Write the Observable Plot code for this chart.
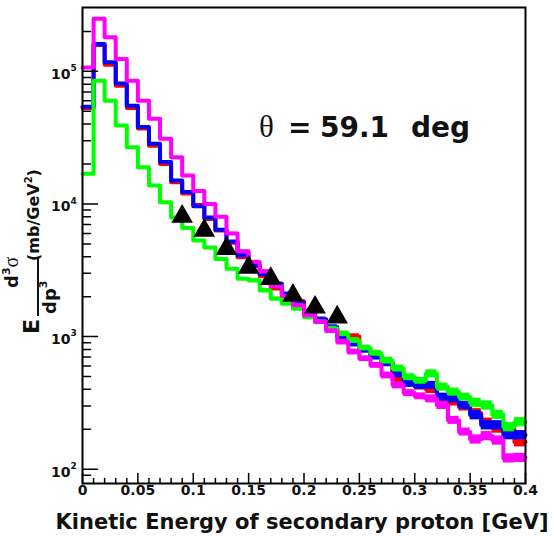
<!DOCTYPE html>
<html><head><meta charset="utf-8">
<script src="https://cdn.jsdelivr.net/npm/d3@7"></script>
<script src="https://cdn.jsdelivr.net/npm/@observablehq/plot@0.6"></script>
<style>html,body{margin:0;padding:0;background:#fff} svg{display:block}</style>
</head><body><div id="chart"></div>
<script>
// ---------- data ----------
const binEdges = [0,0.01,0.02,0.03,0.04,0.05,0.06,0.07,0.08,0.09,0.10,0.11,0.12,0.13,0.14,0.15,0.16,0.17,0.18,0.19,0.20,0.21,0.22,0.23,0.24,0.25,0.26,0.27,0.28,0.29,0.30,0.31,0.32,0.33,0.34,0.35,0.36,0.37,0.38,0.39,0.40];
const magenta = [107000,249000,181000,124000,85000,60000,44000,31000,22500,16400,12500,10000,8000,6000,4400,3650,3100,2400,2020,1720,1450,1290,1100,910,765,682,607,510,429,375,355,340,303,234,191,168,178,165,121,122];
const blue = [54000,161000,117000,81000,55000,38000,28400,20700,15000,12300,9600,7900,6400,5200,4100,3450,2950,2500,2100,1800,1550,1350,1180,1000,880,790,700,630,520,440,425,430,350,340,303,256,215,215,181,181];
const red = [53000,158000,112000,78000,53000,37000,27500,20000,14600,12000,9800,7700,6300,5100,3970,3400,2850,2300,2050,1850,1500,1320,1150,1020,1000,800,720,640,470,450,420,400,330,322,295,265,225,203,200,160];
const green = [16900,85000,60000,39000,26800,18900,13800,10300,7900,6600,5300,4700,3850,3250,2730,2650,2230,1930,1770,1620,1400,1290,1150,1050,936,820,750,660,575,495,465,525,417,382,350,318,303,258,208,227];
const relErr = [0,0,0,0,0,0,0,0,0,0,0.01,0.01,0.02,0.02,0.02,0.03,0.03,0.03,0.03,0.03,0.04,0.04,0.04,0.05,0.05,0.05,0.05,0.06,0.06,0.06,0.06,0.07,0.07,0.07,0.07,0.08,0.08,0.08,0.08,0.08];
const dataX = [0.09,0.11,0.13,0.15,0.17,0.19,0.21,0.23];
const dataY = [8050,6310,4590,3320,2730,2040,1660,1400];
const xTickValues = [0,0.05,0.1,0.15,0.2,0.25,0.3,0.35,0.4];
const xTickLabels = ["0","0.05","0.1","0.15","0.2","0.25","0.3","0.35","0.4"];
const xMinorTicks = [0.01,0.02,0.03,0.04,0.06,0.07,0.08,0.09,0.11,0.12,0.13,0.14,0.16,0.17,0.18,0.19,0.21,0.22,0.23,0.24,0.26,0.27,0.28,0.29,0.31,0.32,0.33,0.34,0.36,0.37,0.38,0.39];
const yMajorTicks = [100,1000,10000,100000];
const yExponents = ["2","3","4","5"];
const yMinorTicks = [90,200,300,400,500,600,700,800,900,2000,3000,4000,5000,6000,7000,8000,9000,20000,30000,40000,50000,60000,70000,80000,90000,200000];
const titleParts = ["=", "59.1", "deg"];
const xTitle = "Kinetic Energy of secondary proton [GeV]";

// ---------- build ----------
const seriesList = [
  {vals: red, color: "#ff0000"},
  {vals: blue, color: "#0000ff"},
  {vals: green, color: "#00ff00"},
  {vals: magenta, color: "#ff00ff"}
];
const tickShape = {draw(context, l) { context.moveTo(0, 0); context.lineTo(0, -l); }};

const marks = [];
for (const s of seriesList) {
  const pts = binEdges.map((e, i) => ({x: e, y: s.vals[Math.min(i, s.vals.length - 1)]}));
  const boxes = s.vals.map((v, i) => ({x1: binEdges[i], x2: binEdges[i + 1], v, e: relErr[i]})).filter(d => d.e > 0);
  marks.push(Plot.rect(boxes, {x1: "x1", x2: "x2", y1: d => d.v * (1 - d.e), y2: d => d.v * (1 + d.e), fill: s.color}));
  marks.push(Plot.line(pts, {x: "x", y: "y", curve: "step-after", stroke: s.color, strokeWidth: 4}));
}
marks.push(Plot.dot(dataX.map((x, i) => ({x, y: dataY[i]})), {x: "x", y: "y", symbol: "triangle", r: 8, fill: "black", stroke: "none"}));
// ticks
marks.push(Plot.vector(yMajorTicks, {y: d => d, frameAnchor: "left", length: 15, rotate: 90, anchor: "start", shape: tickShape, stroke: "black", strokeWidth: 1.5}));
marks.push(Plot.vector(yMinorTicks, {y: d => d, frameAnchor: "left", length: 8, rotate: 90, anchor: "start", shape: tickShape, stroke: "black", strokeWidth: 1.5}));
marks.push(Plot.vector(xTickValues, {x: d => d, frameAnchor: "bottom", length: 10, rotate: 0, anchor: "start", shape: tickShape, stroke: "black", strokeWidth: 1.5}));
marks.push(Plot.vector(xMinorTicks, {x: d => d, frameAnchor: "bottom", length: 5, rotate: 0, anchor: "start", shape: tickShape, stroke: "black", strokeWidth: 1.5}));
// tick labels
marks.push(Plot.text(xTickValues, {x: d => d, frameAnchor: "bottom", text: (d, i) => xTickLabels[i], lineAnchor: "top", dy: 2, fontSize: 14, fontWeight: "bold", fill: "#111"}));
marks.push(Plot.text(yMajorTicks, {y: d => d, frameAnchor: "left", text: () => "10", textAnchor: "end", dx: -12, dy: 3, fontSize: 14, fontWeight: "bold", fill: "#111"}));
marks.push(Plot.text(yMajorTicks, {y: d => d, frameAnchor: "left", text: (d, i) => yExponents[i], textAnchor: "start", dx: -12, dy: -3, fontSize: 9, fontWeight: "bold", fill: "#111"}));
marks.push(Plot.frame({stroke: "black", strokeWidth: 2}));

const plot = Plot.plot({
  width: 554, height: 536,
  marginLeft: 82, marginRight: 29, marginTop: 7, marginBottom: 53,
  x: {domain: [0, 0.4], axis: null},
  y: {type: "log", domain: [78, 303000], axis: null},
  style: {fontFamily: "DejaVu Sans", background: "white"},
  marks
});
document.getElementById("chart").appendChild(plot);

const svg = d3.select(plot);
// theta label
const t = svg.append("text").attr("x", 259).attr("y", 137).attr("fill", "#111").attr("text-anchor", "start");
t.append("tspan").attr("font-family", "Liberation Serif").attr("font-size", 31).text("θ");
const tb = svg.append("text").attr("y", 137).attr("fill", "#111").attr("text-anchor", "start")
  .attr("font-family", "DejaVu Sans").attr("font-weight", "bold").attr("font-size", 28);
[288, 320, 411].forEach((x, i) => tb.append("tspan").attr("x", x).text(titleParts[i]));
// x title
svg.append("text").attr("x", 302).attr("y", 529).attr("text-anchor", "middle")
  .attr("font-family", "DejaVu Sans").attr("font-weight", "bold").attr("font-size", 21).attr("fill", "#111").text(xTitle);
// y title (rotated, with fraction)
const g = svg.append("g").attr("transform", "translate(39,334) rotate(-90)")
  .attr("font-family", "DejaVu Sans").attr("font-weight", "bold").attr("fill", "#111").attr("text-anchor", "start");
g.append("text").attr("x", 0).attr("y", 0).attr("font-size", 22).text("E");
const num = g.append("text").attr("x", 46).attr("y", -21).attr("font-size", 18);
num.append("tspan").text("d");
num.append("tspan").attr("dy", -8).attr("font-size", 11).text("3");
num.append("tspan").attr("dy", 8).attr("font-family", "Liberation Serif").attr("font-weight", "normal").attr("font-size", 20).text("σ");
g.append("line").attr("x1", 18).attr("x2", 76).attr("y1", -1).attr("y2", -1).attr("stroke", "#111").attr("stroke-width", 2);
const den = g.append("text").attr("x", 20).attr("y", 17).attr("font-size", 18);
den.append("tspan").text("dp");
den.append("tspan").attr("dy", -9).attr("font-size", 11).text("3");
const unit = g.append("text").attr("x", 73).attr("y", 0).attr("font-size", 16);
unit.append("tspan").text("(mb/GeV");
unit.append("tspan").attr("dy", -7).attr("font-size", 10).text("2");
unit.append("tspan").attr("dy", 7).text(")");
</script>
</body></html>
